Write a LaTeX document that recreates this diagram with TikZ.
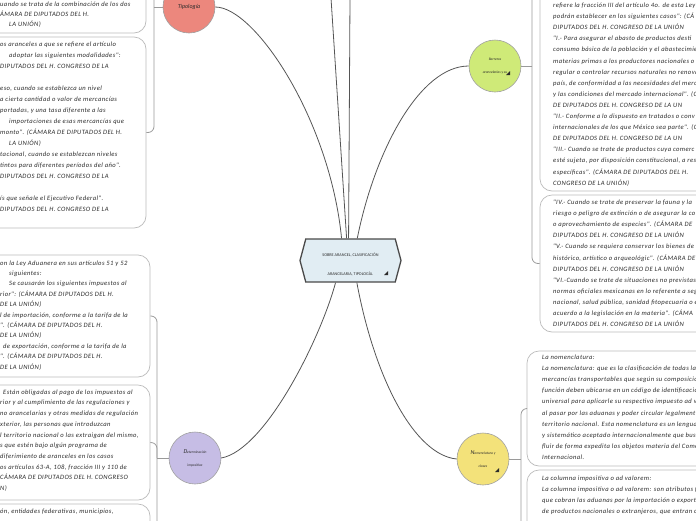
\documentclass[tikz,border=0pt]{standalone}
\usepackage{fontspec}
\setmainfont{Carlito}
\newfontfamily\notefont[LetterSpace=6]{Carlito}
\usetikzlibrary{shapes.symbols,positioning}
\definecolor{hubfill}{HTML}{E1EDF3}
\definecolor{hubline}{HTML}{4A4A4A}
\definecolor{tipo}{HTML}{EC877D}
\definecolor{barrera}{HTML}{CFEA78}
\definecolor{determ}{HTML}{C6BDE5}
\definecolor{nomen}{HTML}{F3E27A}
\definecolor{rim}{HTML}{A0A0A0}
\definecolor{frame}{HTML}{BBBBBB}
\definecolor{ink}{HTML}{2B2B2B}
\definecolor{edge}{HTML}{555555}
\definecolor{twiggray}{HTML}{9A9A9A}
\tikzset{
  notebox/.style={draw=frame, fill=white, rounded corners=12pt, line width=0.7pt, inner sep=0pt},
  notetext/.style={anchor=north west, align=left, inner sep=0pt, text=ink,
    font=\fontsize{6.6}{11}\notefont\itshape},
  topic/.style={circle, draw=rim, line width=0.6pt, minimum size=52pt, inner sep=0pt,
    align=center, text=ink, font=\fontsize{3.6}{13}\selectfont\itshape},
  hub/.style={signal, signal to=west and east, signal pointer angle=150, draw=hubline,
    line width=1.3pt, fill=hubfill, minimum width=101pt, minimum height=43pt,
    align=center, inner sep=0pt, text=ink, font=\fontsize{4.2}{5}\selectfont},
  branch/.style={draw=edge, line width=0.8pt},
  twig/.style={draw=twiggray, line width=0.8pt, rounded corners=6pt}
}

\begin{document}
\begin{tikzpicture}[x=1pt, y=-1pt]
  \useasboundingbox (0,0) rectangle (696,520);
  \clip (0,0) rectangle (696,520);

  % boxes on the left
  \node[notebox, minimum width=346pt, minimum height=133pt] (boxA) at (-27,-33.5) {};
  \node[notebox, minimum width=346pt, minimum height=191pt] (boxB) at (-27,132.5) {};
  \node[notebox, minimum width=350pt, minimum height=122pt] (boxC) at (-25,316) {};
  \node[notebox, minimum width=350pt, minimum height=115pt] (boxD) at (-25,442.5) {};
  \node[notebox, minimum width=350pt, minimum height=136pt] (boxE) at (-25,572) {};

  % boxes on the right
  \node[notebox, minimum width=360pt, minimum height=411pt] (boxF) at (720,-14.5) {};
  \node[notebox, minimum width=360pt, minimum height=137pt] (boxG) at (720,263.5) {};
  \node[notebox, minimum width=373pt, minimum height=115pt] (boxH) at (713.5,408.5) {};
  \node[notebox, minimum width=373pt, minimum height=170pt] (boxI) at (713.5,555) {};

  \node[notetext, font=\fontsize{6.6}{10}\notefont\itshape] (txtA) at (0,-0.4) {\strut uando se trata de la combinación de los dos\\
    ÁMARA DE DIPUTADOS DEL H.\\
    \hspace*{9pt}LA UNIÓN)};
  \node[notetext] (txtB) at (0,38.6) {\strut os aranceles a que se refiere el artículo\\
    \hspace*{9pt}adoptar las siguientes modalidades":\\
    DIPUTADOS DEL H. CONGRESO DE LA\\
    \mbox{}\\
    eso, cuando se establezca un nivel\\
    a cierta cantidad o valor de mercancías\\
    portadas, y una tasa diferente a las\\
    \hspace*{9pt}importaciones de esas mercancías que\\
    monto". (CÁMARA DE DIPUTADOS DEL H.\\
    \hspace*{9pt}LA UNIÓN)\\
    tacional, cuando se establezcan niveles\\
    tintos para diferentes períodos del año".\\
    DIPUTADOS DEL H. CONGRESO DE LA\\
    \mbox{}\\
    ís que señale el Ejecutivo Federal".\\
    DIPUTADOS DEL H. CONGRESO DE LA};
  \node[notetext, font=\fontsize{6.6}{10.4}\notefont\itshape] (txtC) at (0,257.6) {\strut on la Ley Aduanera en sus artículos 51 y 52\\
    \hspace*{9pt}siguientes:\\
    \hspace*{9pt}Se causarán los siguientes impuestos al\\
    rior": (CÁMARA DE DIPUTADOS DEL H.\\
    DE LA UNIÓN)\\
    l de importación, conforme a la tarifa de la\\
    ". (CÁMARA DE DIPUTADOS DEL H.\\
    DE LA UNIÓN)\\
    \hspace*{3pt}de exportación, conforme a la tarifa de la\\
    ". (CÁMARA DE DIPUTADOS DEL H.\\
    DE LA UNIÓN)};
  \node[notetext, font=\fontsize{6.6}{10.7}\notefont\itshape] (txtD) at (0,386.6) {\strut\hspace*{3pt}Están obligadas al pago de los impuestos al\\
    rior y al cumplimiento de las regulaciones y\\
    no arancelarias y otras medidas de regulación\\
    xterior, las personas que introduzcan\\
    l territorio nacional o las extraigan del mismo,\\
    s que estén bajo algún programa de\\
    diferimiento de aranceles en los casos\\
    os artículos 63-A, 108, fracción III y 110 de\\
    CÁMARA DE DIPUTADOS DEL H. CONGRESO\\
    N)};
  \node[notetext] (txtE) at (0,505.6) {\strut ón, entidades federativas, municipios,};

  \node[notetext, font=\fontsize{6.6}{11.1}\notefont\itshape] (txtF) at (553,-0.4) {\strut refiere la fracción III del artículo 4o. de esta Ley\\
    podrán establecer en los siguientes casos": (CÁ\\
    DIPUTADOS DEL H. CONGRESO DE LA UNIÓN\\
    "I.- Para asegurar el abasto de productos desti\\
    consumo básico de la población y el abastecimie\\
    materias primas a los productores nacionales o\\
    regular o controlar recursos naturales no renova\\
    país, de conformidad a las necesidades del merc\\
    y las condiciones del mercado internacional". (C\\
    DE DIPUTADOS DEL H. CONGRESO DE LA UN\\
    "II.- Conforme a lo dispuesto en tratados o conv\\
    internacionales de los que México sea parte". (C\\
    DE DIPUTADOS DEL H. CONGRESO DE LA UN\\
    "III.- Cuando se trate de productos cuya comerc\\
    esté sujeta, por disposición constitucional, a rest\\
    específicas". (CÁMARA DE DIPUTADOS DEL H.\\
    CONGRESO DE LA UNIÓN)};
  \node[notetext, font=\fontsize{6.6}{11.1}\notefont\itshape] (txtG) at (553,196.6) {\strut "IV.- Cuando se trate de preservar la fauna y la\\
    riesgo o peligro de extinción o de asegurar la co\\
    o aprovechamiento de especies". (CÁMARA DE\\
    DIPUTADOS DEL H. CONGRESO DE LA UNIÓN\\
    "V.- Cuando se requiera conservar los bienes de\\
    histórico, artístico o arqueológic". (CÁMARA DE\\
    DIPUTADOS DEL H. CONGRESO DE LA UNIÓN\\
    "VI.-Cuando se trate de situaciones no previstas\\
    normas oficiales mexicanas en lo referente a seg\\
    nacional, salud pública, sanidad fitopecuaria o ec\\
    acuerdo a la legislación en la materia". (CÁMA\\
    DIPUTADOS DEL H. CONGRESO DE LA UNIÓN};
  \node[notetext, font=\fontsize{6.6}{11.1}\notefont\itshape] (txtH) at (542,351.6) {\strut La nomenclatura:\\
    La nomenclatura: que es la clasificación de todas las\\
    mercancías transportables que según su composición\\
    función deben ubicarse en un código de identificación\\
    universal para aplicarle su respectivo impuesto ad va\\
    al pasar por las aduanas y poder circular legalment\\
    territorio nacional. Esta nomenclatura es un lenguaje\\
    y sistemático aceptado internacionalmente que busca\\
    fluir de forma expedita los objetos materia del Comer\\
    Internacional.};
  \node[notetext, font=\fontsize{6.6}{11.1}\notefont\itshape] (txtI) at (542,472.6) {\strut La columna impositiva o ad valorem:\\
    La columna impositiva o ad valorem: son atributos fi\\
    que cobran las aduanas por la importación o exporta\\
    de productos nacionales o extranjeros, que entran o};

  % central topic and its branches
  \node[hub] (hub) at (350.5,260.5) {\rule{0pt}{11pt}SOBRE ARANCEL, CLASIFICACIÓN\\[14pt]ARANCELARIA, TIPOLOGÍA.};
  \node[topic, fill=tipo, font=\fontsize{6}{7}\selectfont\itshape] (tipologia) at (189,7) {Tipología};
  \node[topic, fill=barrera] (barreras) at (495,66) {Barreras\\arancelarias y su};
  \node[topic, fill=determ] (determ) at (195,458) {{\fontsize{6}{6}\selectfont D}eterminación\\impositiva};
  \node[topic, fill=nomen] (nomen) at (483,459) {{\fontsize{6}{6}\selectfont N}omenclatura y\\clases};

  \foreach \fx/\fy in {386/273, 508/73, 497/470}
    \fill[ink] (\fx+2,\fy+2) -- ++(0,-4) -- ++(-4,4) -- cycle;

  \coordinate (upA) at (331,-2);
  \coordinate (upB) at (350,-2);
  \draw[branch] (hub.100) -- (upA);
  \draw[branch] (hub.95) -- (upB);
  \draw[branch] (tipologia.east) .. controls (255,7) and (330,120) .. (hub.112);
  \draw[branch] (hub.73) .. controls (375,150) and (420,66) .. (barreras.west);
  \draw[branch] (determ.east) .. controls (265,450) and (320,340) .. (hub.236);
  \draw[branch] (hub.286) .. controls (375,380) and (415,455) .. (nomen.west);

  % brackets from each topic to its boxes
  \coordinate (tipojoin) at (154,7);
  \draw[twig] (tipologia.west) -- (tipojoin);
  \draw[twig] (tipojoin) |- (boxA.east);
  \draw[twig] (tipojoin) |- (boxB.east);
  \coordinate (detjoin) at (157,458);
  \draw[twig] (determ.west) -- (detjoin);
  \draw[twig] (detjoin) |- (boxC.east);
  \draw[twig] (detjoin) |- (boxD.east);
  \draw[twig] (detjoin) |- (boxE.east);
  \coordinate (barjoin) at (532,66);
  \draw[twig] (barreras.east) -- (barjoin);
  \draw[twig] (barjoin) |- (boxF.west);
  \draw[twig] (barjoin) |- (boxG.west);
  \coordinate (nomjoin) at (521,459);
  \draw[twig] (nomen.east) -- (nomjoin);
  \draw[twig] (nomjoin) |- (boxH.west);
  \draw[twig] (nomjoin) |- (boxI.west);
\end{tikzpicture}
\end{document}
